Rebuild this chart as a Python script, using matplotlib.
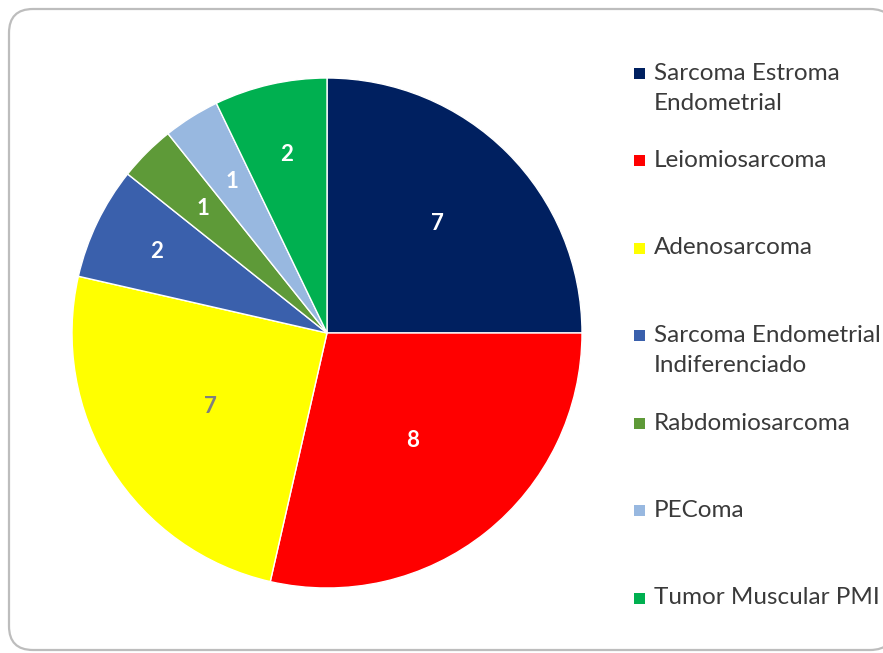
import numpy as np
import matplotlib.pyplot as plt
from matplotlib.patches import FancyBboxPatch, Rectangle
from matplotlib.transforms import IdentityTransform

# slices, clockwise from 12 o'clock
labels = ["Sarcoma Estroma\nEndometrial", "Leiomiosarcoma", "Adenosarcoma",
          "Sarcoma Endometrial\nIndiferenciado", "Rabdomiosarcoma", "PEComa",
          "Tumor Muscular PMI"]
counts = [7, 8, 7, 2, 1, 1, 2]
colors = ["#002060", "#FF0000", "#FFFF00", "#3A60AC", "#5E9A38", "#98B8E0", "#00B050"]
label_colors = ["white", "white", "#7F7F7F", "white", "white", "white", "white"]
# how far out each value label sits (fraction of radius)
label_r = [0.61, 0.54, 0.54, 0.74, 0.69, 0.70, 0.72]

W, H = 883, 653
fig = plt.figure(figsize=(W / 100, H / 100), dpi=100)
plt.rcParams['font.family'] = ['Lato', 'DejaVu Sans']

# rounded chart frame, in pixels (kept behind the axes)
frame = FancyBboxPatch((9, 3), 885, 641, boxstyle="round,pad=0,rounding_size=24",
                       transform=IdentityTransform(), facecolor="white",
                       edgecolor="#BDBDBD", linewidth=1.6, zorder=-5)
fig.patches.append(frame)

cx, cy, R = 327, 333, 255
ax = fig.add_axes([(cx - R) / W, (H - cy - R) / H, 2 * R / W, 2 * R / H])
ax.patch.set_visible(False)
wedges, _ = ax.pie(counts, colors=colors, startangle=90, counterclock=False,
                   radius=1, wedgeprops=dict(edgecolor="white", linewidth=1))
ax.set_xlim(-1, 1)
ax.set_ylim(-1, 1)

for w, n, c, r in zip(wedges, counts, label_colors, label_r):
    mid = np.deg2rad((w.theta1 + w.theta2) / 2)
    ax.text(r * np.cos(mid), r * np.sin(mid), str(n), color=c, fontsize=16,
            fontweight="bold", ha="center", va="center")

# legend, evenly spaced entries
leg_y0, leg_dy = 73, 87.5
for i, (lab, col) in enumerate(zip(labels, colors)):
    yc = leg_y0 + i * leg_dy
    fig.patches.append(Rectangle((634, H - yc - 5.5), 11, 11, transform=IdentityTransform(),
                                 facecolor=col, edgecolor="none"))
    for k, line in enumerate(lab.split("\n")):
        fig.text(654 / W, (H - yc - k * 30) / H, line, fontsize=17.5, color="#3A3A3A",
                 ha="left", va="center")

fig.savefig("out.png", dpi=100)
